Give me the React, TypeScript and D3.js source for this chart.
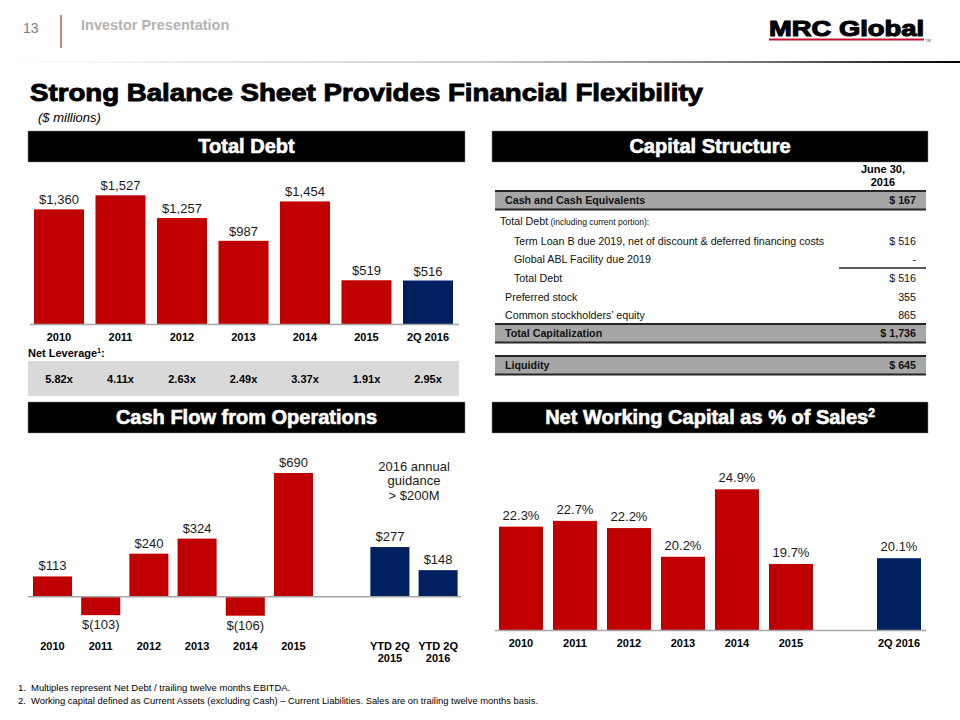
import React from "react";
import * as d3 from "d3";

const debtCats = ["2010", "2011", "2012", "2013", "2014", "2015", "2Q 2016"];
const debtVals = [1360, 1527, 1257, 987, 1454, 519, 516];
const debtLabels = ["$1,360", "$1,527", "$1,257", "$987", "$1,454", "$519", "$516"];
const leverage = ["5.82x", "4.11x", "2.63x", "2.49x", "3.37x", "1.91x", "2.95x"];

const cfCats = ["2010", "2011", "2012", "2013", "2014", "2015", "YTD 2Q\n2015", "YTD 2Q\n2016"];
const cfVals = [113, -103, 240, 324, -106, 690, 277, 148];
const cfLabels = ["$113", "$(103)", "$240", "$324", "$(106)", "$690", "$277", "$148"];

const nwcCats = ["2010", "2011", "2012", "2013", "2014", "2015", "2Q 2016"];
const nwcVals = [22.3, 22.7, 22.2, 20.2, 24.9, 19.7, 20.1];

const capRows = [
  { label: "Cash and Cash Equivalents", value: "$ 167", kind: "shaded", indent: 0 },
  { label: "Total Debt", note: " (including current portion):", value: "", kind: "plain", indent: -1 },
  { label: "Term Loan B due 2019, net of discount & deferred financing costs", value: "$ 516", kind: "plain", indent: 1 },
  { label: "Global ABL Facility due 2019", value: "-", kind: "plain", indent: 1 },
  { label: "Total Debt", value: "$ 516", kind: "subtotal", indent: 1 },
  { label: "Preferred stock", value: "355", kind: "plain", indent: 0 },
  { label: "Common stockholders\u2019 equity", value: "865", kind: "plain", indent: 0 },
  { label: "Total Capitalization", value: "$ 1,736", kind: "shaded", indent: 0 },
  { label: "Liquidity", value: "$ 645", kind: "shaded", indent: 0 },
];

const RED = "#c00000";
const NAVY = "#002060";
const FONT = "'Liberation Sans', Arial, sans-serif";

function PanelHeader({ x, w, y, title, sup }: { x: number; w: number; y: number; title: string; sup?: string }) {
  return (
    <g>
      <rect x={x} y={y} width={w} height={31} fill="#000" stroke="#888" strokeWidth={0.5} />
      <text x={x + w / 2} y={y + 22} textAnchor="middle" fill="#fff" fontFamily={FONT} fontWeight="bold" fontSize={20} stroke="#fff" strokeWidth={0.6}>
        {title}
        {sup ? <tspan dy={-7} fontSize={12}>{sup}</tspan> : null}
      </text>
    </g>
  );
}

export default function App() {
  const xDebt = d3.scaleBand<string>().domain(debtCats).range([28.25, 458.75]).paddingInner(0.187).paddingOuter(0.0935);
  const debtBase = 324;
  const yDebt = d3.scaleLinear().domain([0, 1527]).range([debtBase, 195.3]);

  const cfSlots = [...cfCats.slice(0, 6), "gap", ...cfCats.slice(6)];
  const xCf = d3.scaleBand<string>().domain(cfSlots).range([28.4, 462.2]).paddingInner(0.19).paddingOuter(0.095);
  const yCf = d3.scaleLinear().domain([0, 690]).range([596.7, 473]);

  const nwcSlots = [...nwcCats.slice(0, 6), "gap", nwcCats[6]];
  const xNwc = d3.scaleBand<string>().domain(nwcSlots).range([494, 926]).paddingInner(0.185).paddingOuter(0.0925);
  const yNwc = d3.scaleLinear().domain([15.1, 24.9]).range([630, 489.3]);

  const capTops = [191, 212, 232, 250, 269, 288, 306, 324, 356];

  return (
    <svg width={960} height={720} style={{ position: "absolute", left: 0, top: 0 }} fontFamily={FONT}>
      <defs>
        <linearGradient id="hdrLine" x1="0" x2="1" y1="0" y2="0">
          <stop offset="0" stopColor="#ffffff" />
          <stop offset="0.5" stopColor="#cfcfcf" />
          <stop offset="0.8" stopColor="#707070" />
          <stop offset="1" stopColor="#000000" />
        </linearGradient>
      </defs>
      <rect x={0} y={0} width={960} height={720} fill="#fff" />

      {/* header */}
      <text x={23} y={33} fontSize={14} fill="#808080">13</text>
      <line x1={61} x2={61} y1={15} y2={48} stroke="#c0504d" strokeWidth={1.5} />
      <text x={81} y={30} fontSize={14.5} fontWeight="bold" fill="#b3b3b3">Investor Presentation</text>
      <rect x={0} y={61} width={960} height={2} fill="url(#hdrLine)" />

      {/* logo */}
      <text x={769} y={36} fontSize={22} fontWeight="bold" fill="#000" stroke="#000" strokeWidth={1.1} textLength={155} lengthAdjust="spacingAndGlyphs">MRC Global</text>
      <rect x={769} y={38.5} width={155} height={2} fill="#c8102e" />
      <text x={925} y={42} fontSize={4} fill="#444">TM</text>

      {/* title */}
      <text x={30} y={101} fontSize={24} fontWeight="bold" fill="#000" stroke="#000" strokeWidth={0.9} textLength={673} lengthAdjust="spacingAndGlyphs">
        Strong Balance Sheet Provides Financial Flexibility
      </text>
      <text x={38} y={122} fontSize={13} fontStyle="italic" fill="#000">($ millions)</text>

      {/* Total debt panel */}
      <PanelHeader x={28} w={437} y={131} title="Total Debt" />
      {debtCats.map((c, i) => (
        <g key={c}>
          <rect x={xDebt(c)} y={yDebt(debtVals[i])} width={xDebt.bandwidth()} height={debtBase - yDebt(debtVals[i])} fill={i === debtCats.length - 1 ? NAVY : RED} />
          <text x={xDebt(c)! + xDebt.bandwidth() / 2} y={yDebt(debtVals[i]) - 5} textAnchor="middle" fontSize={13} fill="#1a1a1a">{debtLabels[i]}</text>
          <text x={xDebt(c)! + xDebt.bandwidth() / 2} y={341} textAnchor="middle" fontSize={11} fontWeight="bold" fill="#000">{c}</text>
        </g>
      ))}
      <line x1={30} x2={459} y1={debtBase + 0.5} y2={debtBase + 0.5} stroke="#a6a6a6" strokeWidth={1.5} />
      <text x={28} y={357} fontSize={11} fontWeight="bold" fill="#000">Net Leverage<tspan dy={-4} fontSize={7}>1</tspan><tspan dy={4}>:</tspan></text>
      <rect x={28} y={361} width={431} height={35} fill="#d9d9d9" />
      {debtCats.map((c, i) => (
        <text key={"lv" + c} x={xDebt(c)! + xDebt.bandwidth() / 2} y={383} textAnchor="middle" fontSize={11} fontWeight="bold" fill="#000">{leverage[i]}</text>
      ))}

      {/* Capital structure */}
      <PanelHeader x={492} w={436} y={131} title="Capital Structure" />
      <text x={883} y={173} textAnchor="middle" fontSize={11} fontWeight="bold">June 30,</text>
      <text x={883} y={186} textAnchor="middle" fontSize={11} fontWeight="bold">2016</text>
      {capRows.map((r, i) => {
        const top = capTops[i];
        const shaded = r.kind === "shaded";
        const h = 18.5;
        const tx = r.indent === -1 ? 500 : r.indent === 1 ? 514 : 505;
        return (
          <g key={i}>
            {shaded && <rect x={495} y={top} width={431} height={h} fill="#a6a6a6" />}
            {shaded && <line x1={495} x2={926} y1={top} y2={top} stroke="#262626" strokeWidth={2} />}
            {shaded && <line x1={495} x2={926} y1={top + h} y2={top + h} stroke="#262626" strokeWidth={2} />}
            {r.kind === "subtotal" && <line x1={839} x2={926} y1={top - 1} y2={top - 1} stroke="#262626" strokeWidth={1.5} />}
            <text x={tx} y={top + 13} fontSize={10.7} fontWeight={shaded ? "bold" : "normal"} fill="#111">
              {r.label}
              {r.note ? <tspan fontSize={8.5}>{r.note}</tspan> : null}
            </text>
            <text x={916} y={top + 13} textAnchor="end" fontSize={10.7} fontWeight={shaded ? "bold" : "normal"} fill="#111">{r.value}</text>
          </g>
        );
      })}

      {/* Cash flow */}
      <PanelHeader x={28} w={437} y={402} title="Cash Flow from Operations" />
      {cfCats.map((c, i) => {
        const v = cfVals[i];
        const x0 = xCf(c)!;
        const cx = x0 + xCf.bandwidth() / 2;
        const y0 = yCf(Math.max(0, v));
        const y1 = yCf(Math.min(0, v));
        const lines = c.split("\n");
        return (
          <g key={c}>
            <rect x={x0} y={y0} width={xCf.bandwidth()} height={y1 - y0} fill={i >= 6 ? NAVY : RED} />
            <text x={cx} y={v >= 0 ? y0 - 6 : y1 + 14} textAnchor="middle" fontSize={13} fill="#1a1a1a">{cfLabels[i]}</text>
            {lines.map((l, k) => (
              <text key={k} x={cx} y={650 + k * 12} textAnchor="middle" fontSize={11} fontWeight="bold" fill="#000">{l}</text>
            ))}
          </g>
        );
      })}
      <line x1={28} x2={461} y1={yCf(0)} y2={yCf(0)} stroke="#a6a6a6" strokeWidth={1.5} />
      <text x={414} y={471} textAnchor="middle" fontSize={13} fill="#1a1a1a">2016 annual</text>
      <text x={414} y={485} textAnchor="middle" fontSize={13} fill="#1a1a1a">guidance</text>
      <text x={414} y={500} textAnchor="middle" fontSize={13} fill="#1a1a1a">&gt; $200M</text>

      {/* NWC */}
      <PanelHeader x={492} w={436} y={402} title="Net Working Capital as % of Sales" sup="2" />
      {nwcCats.map((c, i) => {
        const v = nwcVals[i];
        const x0 = xNwc(c)!;
        const cx = x0 + xNwc.bandwidth() / 2;
        return (
          <g key={c}>
            <rect x={x0} y={yNwc(v)} width={xNwc.bandwidth()} height={630 - yNwc(v)} fill={i === nwcCats.length - 1 ? NAVY : RED} />
            <text x={cx} y={yNwc(v) - 7} textAnchor="middle" fontSize={13} fill="#1a1a1a">{v.toFixed(1) + "%"}</text>
            <text x={cx} y={647} textAnchor="middle" fontSize={11} fontWeight="bold" fill="#000">{c}</text>
          </g>
        );
      })}
      <line x1={495} x2={926} y1={630.5} y2={630.5} stroke="#a6a6a6" strokeWidth={1.5} />

      {/* footnotes */}
      <text x={18} y={691} fontSize={9.5} fill="#000">1.</text>
      <text x={31} y={691} fontSize={9.5} fill="#000">Multiples represent Net Debt / trailing twelve months EBITDA.</text>
      <text x={18} y={704} fontSize={9.5} fill="#000">2.</text>
      <text x={31} y={704} fontSize={9.5} fill="#000" textLength={507} lengthAdjust="spacingAndGlyphs">Working capital defined as Current Assets (excluding Cash) – Current Liabilities. Sales are on trailing twelve months basis.</text>
    </svg>
  );
}
